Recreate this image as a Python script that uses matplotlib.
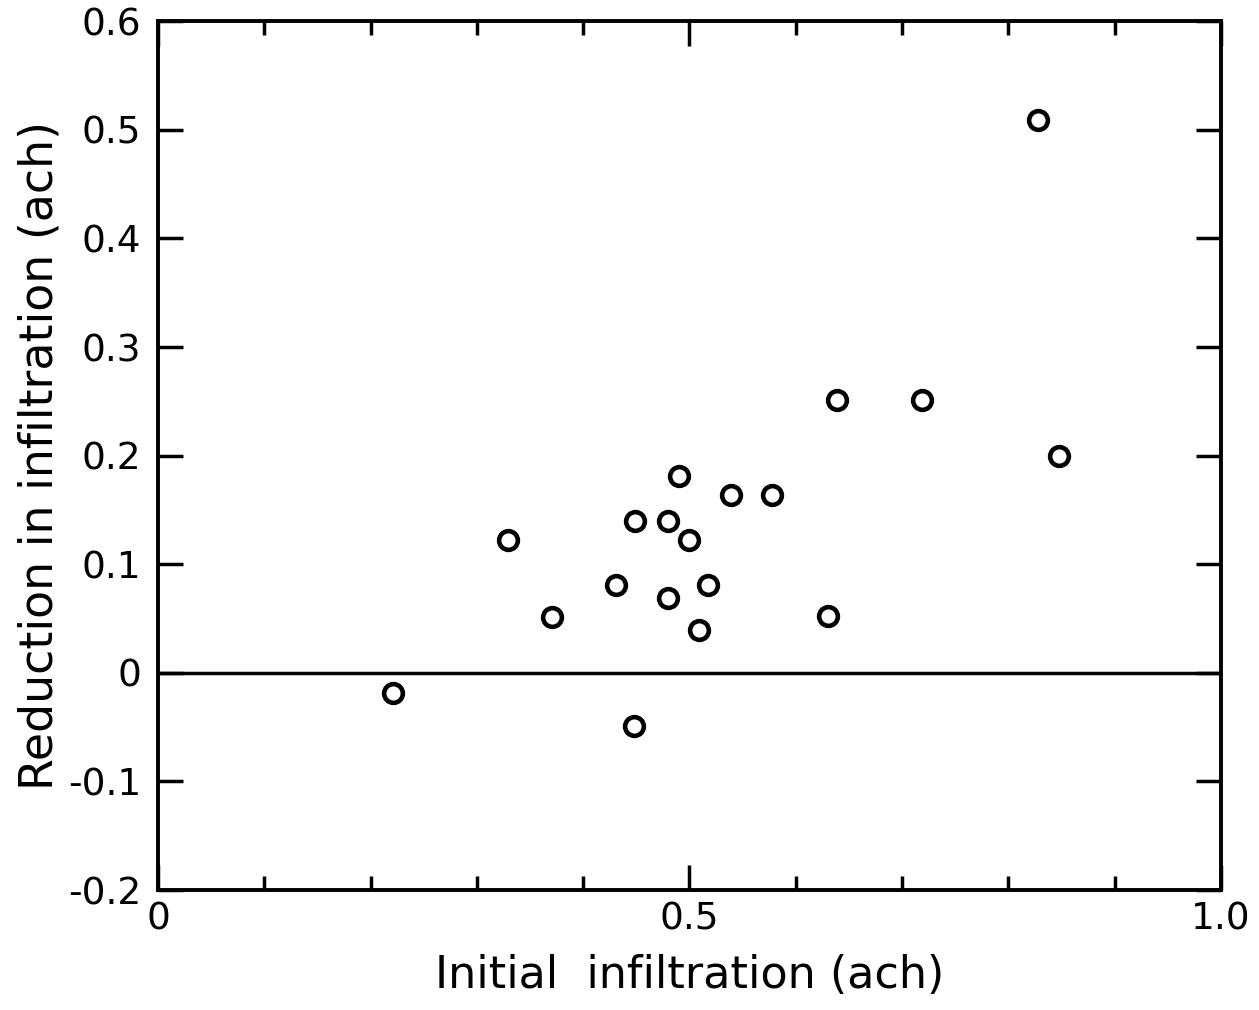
import matplotlib
matplotlib.use("Agg")
import matplotlib.pyplot as plt
import numpy as np

initial = [0.221, 0.329, 0.371, 0.431, 0.448, 0.449, 0.480, 0.480, 0.490, 0.500,
           0.509, 0.517, 0.539, 0.578, 0.630, 0.639, 0.719, 0.828, 0.848]
reduction = [-0.019, 0.122, 0.051, 0.081, -0.049, 0.140, 0.140, 0.069, 0.181, 0.122,
             0.039, 0.081, 0.164, 0.164, 0.052, 0.251, 0.251, 0.509, 0.200]

x_major = [0, 0.5, 1.0]
x_major_labels = ["0", "0.5", "1.0"]
y_ticks = [-0.2, -0.1, 0, 0.1, 0.2, 0.3, 0.4, 0.5, 0.6]
y_labels = ["-0.2", "-0.1", "0", "0.1", "0.2", "0.3", "0.4", "0.5", "0.6"]

plt.rcParams['font.family'] = ['DejaVu Sans']

fig = plt.figure(figsize=(12.59, 10.10), dpi=100)
ax = fig.add_axes([0.1255, 0.1188, 0.8443, 0.8602])

ax.plot(initial, reduction, linestyle='none', marker='o', markersize=13.5,
        markerfacecolor='white', markeredgecolor='black', markeredgewidth=3.3)
ax.axhline(0, color='black', lw=2.5, zorder=1)

ax.set_xlim(0, 1.0)
ax.set_ylim(-0.2, 0.6)
ax.set_xticks(x_major)
ax.set_xticklabels(x_major_labels)
ax.set_xticks(np.arange(0, 1.01, 0.1), minor=True)
ax.set_yticks(y_ticks)
ax.set_yticklabels(y_labels)

for s in ax.spines.values():
    s.set_linewidth(2.8)

ax.tick_params(axis='both', which='major', direction='in', length=18, width=2.5,
               labelsize=27, top=True, right=True)
ax.tick_params(axis='y', which='major', pad=12)
ax.tick_params(axis='x', which='major', pad=8)
ax.tick_params(axis='x', which='minor', direction='in', length=10, width=2.5,
               top=True)

ax.set_xlabel("Initial  infiltration (ach)", fontsize=32, labelpad=12)
ax.set_ylabel("Reduction in infiltration (ach)", fontsize=33, labelpad=4)

fig.savefig("out.png", dpi=100)
